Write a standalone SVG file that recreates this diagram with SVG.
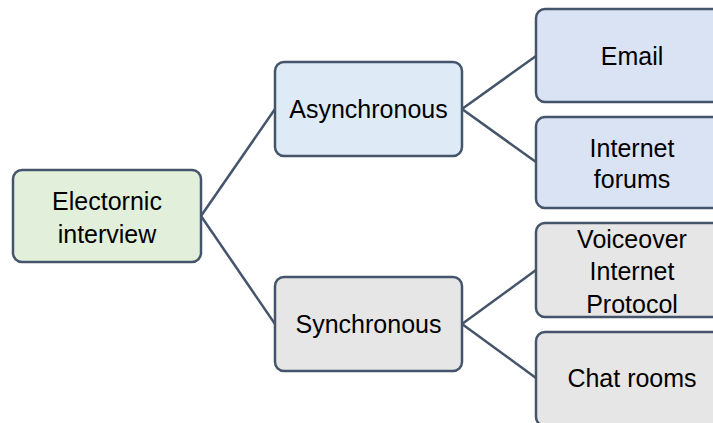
<svg xmlns="http://www.w3.org/2000/svg" width="713" height="423" viewBox="0 0 713 423">
<style>
.n{stroke:#44546A;stroke-width:2.5}
.g{fill:#E2EFDA}.b{fill:#DEEBF7}.b2{fill:#DAE3F3}.y{fill:#E7E6E6}
text{font-family:"Liberation Sans",Arial,sans-serif;font-size:25px;fill:#000;text-anchor:middle}
.c line{stroke:#44546A;stroke-width:2.5}
</style>
<rect width="713" height="423" fill="#fff"/>
<g class="c" id="connectors">
<line x1="201" y1="216" x2="275" y2="109"/>
<line x1="201" y1="216" x2="275" y2="324"/>
<line x1="462" y1="109" x2="536" y2="56"/>
<line x1="462" y1="109" x2="536" y2="162"/>
<line x1="462" y1="324" x2="536" y2="270"/>
<line x1="462" y1="324" x2="536" y2="378"/>
</g>
<g id="root"><rect class="n g" x="13" y="170" width="188" height="92" rx="9"/><text x="107" y="210">Electornic</text><text x="107" y="243">interview</text></g>
<g id="async"><rect class="n b" x="275" y="62" width="187" height="94" rx="9"/><text x="368.5" y="118">Asynchronous</text></g>
<g id="sync"><rect class="n y" x="275" y="277" width="187" height="94" rx="9"/><text x="368.5" y="333">Synchronous</text></g>
<g id="email"><rect class="n b2" x="536" y="9" width="188" height="93" rx="9"/><text x="632" y="65">Email</text></g>
<g id="forums"><rect class="n b2" x="536" y="117" width="188" height="91" rx="9"/><text x="632" y="157">Internet</text><text x="632" y="188">forums</text></g>
<g id="voip"><rect class="n y" x="536" y="223" width="188" height="94" rx="9"/><text x="632" y="248">Voiceover</text><text x="632" y="280">Internet</text><text x="632" y="313">Protocol</text></g>
<g id="chat"><rect class="n y" x="536" y="332" width="188" height="94" rx="9"/><text x="632" y="387">Chat rooms</text></g>
</svg>
